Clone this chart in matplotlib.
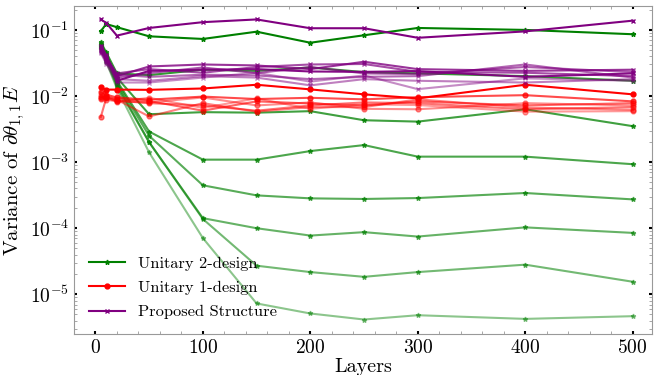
import matplotlib
matplotlib.use('Agg')
import matplotlib.pyplot as plt
import numpy as np

# Capas evaluadas
layers = [5, 10, 20, 50, 100, 150, 200, 250, 300, 400, 500]

# Unitary 2-design (una curva por tamaño)
u2_design = [
    [0.095, 0.123, 0.110, 0.080, 0.073, 0.094, 0.064, 0.083, 0.107, 0.100, 0.086],
    [0.065, 0.046, 0.022, 0.0207, 0.025, 0.024, 0.027, 0.023, 0.022, 0.020, 0.017],
    [0.062, 0.043, 0.019, 0.0053, 0.0057, 0.0056, 0.0059, 0.0043, 0.0041, 0.0063, 0.0035],
    [0.060, 0.041, 0.017, 0.0029, 0.00109, 0.00109, 0.00147, 0.00181, 0.00121, 0.00121, 0.00093],
    [0.058, 0.039, 0.016, 0.0025, 4.46e-4, 3.14e-4, 2.83e-4, 2.77e-4, 2.86e-4, 3.41e-4, 2.73e-4],
    [0.056, 0.037, 0.015, 0.0020, 1.42e-4, 1.0e-4, 7.74e-5, 8.72e-5, 7.48e-5, 1.03e-4, 8.5e-5],
    [0.054, 0.035, 0.014, 0.0020, 1.38e-4, 2.71e-5, 2.17e-5, 1.84e-5, 2.17e-5, 2.81e-5, 1.55e-5],
    [0.052, 0.033, 0.013, 0.0014, 7.1e-5, 7.28e-6, 5.13e-6, 4.16e-6, 4.83e-6, 4.25e-6, 4.67e-6],
]

# Unitary 1-design
u1_design = [
    [0.0135, 0.0125, 0.0125, 0.0124, 0.0130, 0.0148, 0.0126, 0.0106, 0.0092, 0.0148, 0.0106],
    [0.0115, 0.0105, 0.0095, 0.0088, 0.0098, 0.0090, 0.0094, 0.0089, 0.0096, 0.0103, 0.0083],
    [0.0098, 0.0095, 0.0090, 0.0084, 0.0060, 0.0083, 0.0077, 0.0072, 0.0083, 0.0072, 0.0078],
    [0.0048, 0.0092, 0.0085, 0.0078, 0.0072, 0.0060, 0.0072, 0.0080, 0.0078, 0.0063, 0.0068],
    [0.0090, 0.0100, 0.0088, 0.0049, 0.0078, 0.0058, 0.0068, 0.0068, 0.0089, 0.0067, 0.0062],
    [0.0105, 0.0088, 0.0083, 0.0080, 0.0095, 0.0072, 0.0080, 0.0064, 0.0063, 0.0078, 0.0072],
    [0.0092, 0.0097, 0.0082, 0.0094, 0.0066, 0.0092, 0.0064, 0.0075, 0.0073, 0.0058, 0.0059],
]

# Estructura propuesta
proposed = [
    [0.144, 0.128, 0.082, 0.107, 0.131, 0.144, 0.106, 0.106, 0.076, 0.095, 0.138],
    [0.058, 0.042, 0.017, 0.0240, 0.0250, 0.0255, 0.0235, 0.0232, 0.0238, 0.0195, 0.0220],
    [0.055, 0.040, 0.020, 0.0280, 0.0300, 0.0290, 0.0255, 0.0330, 0.0255, 0.0240, 0.0250],
    [0.052, 0.038, 0.022, 0.0255, 0.0225, 0.0275, 0.0300, 0.0305, 0.0232, 0.0225, 0.0200],
    [0.050, 0.036, 0.019, 0.0222, 0.0270, 0.0222, 0.0275, 0.0220, 0.0215, 0.0275, 0.0230],
    [0.048, 0.034, 0.021, 0.0195, 0.0210, 0.0205, 0.0180, 0.0195, 0.0200, 0.0300, 0.0190],
    [0.046, 0.033, 0.018, 0.0170, 0.0200, 0.0190, 0.0145, 0.0180, 0.0170, 0.0160, 0.0180],
    [0.045, 0.031, 0.016, 0.0160, 0.0190, 0.0225, 0.0165, 0.0205, 0.0127, 0.0185, 0.0170],
]

# Fuente estilo LaTeX
plt.rcParams['font.family'] = 'serif'
plt.rcParams['font.serif'] = ['cmr10']
plt.rcParams['mathtext.fontset'] = 'cm'
plt.rcParams['axes.formatter.use_mathtext'] = True
plt.rcParams['axes.unicode_minus'] = False

fig = plt.figure(figsize=(6.54, 3.75), dpi=100)
ax = fig.add_axes([0.113, 0.109, 0.884, 0.875])

# Transparencias por curva
alpha_u2 = [1.0, 0.8, 0.75, 0.7, 0.65, 0.6, 0.55, 0.45]
alpha_u1 = [1.0, 0.7, 0.6, 0.55, 0.5, 0.45, 0.4]
alpha_pr = [1.0, 0.95, 0.8, 0.7, 0.65, 0.6, 0.5, 0.45]

for i, ys in enumerate(u2_design):
    ax.plot(layers, ys, color='green', marker='*', markersize=3.5, lw=1.5,
            alpha=alpha_u2[i], label='Unitary 2-design' if i == 0 else None)
for i, ys in enumerate(u1_design):
    ax.plot(layers, ys, color='red', marker='o', markersize=3.5, lw=1.5,
            alpha=alpha_u1[i], label='Unitary 1-design' if i == 0 else None)
for i, ys in enumerate(proposed):
    ax.plot(layers, ys, color='purple', marker='x', markersize=3.5, lw=1.5,
            alpha=alpha_pr[i], label='Proposed Structure' if i == 0 else None)

ax.set_yscale('log')
ax.set_xlim(-20, 518)
ax.set_ylim(2.5e-6, 0.23)
ax.set_xticks([0, 100, 200, 300, 400, 500])
ax.xaxis.set_minor_locator(matplotlib.ticker.MultipleLocator(20))

for s in ax.spines.values():
    s.set_color('0.6')
ax.tick_params(which='major', direction='in', length=2, width=1.5, color='k',
               top=True, right=True, labelsize=14)
ax.tick_params(which='minor', direction='in', length=2, width=0.6, color='0.6',
               top=True, right=True)

ax.set_xlabel('Layers', fontsize=14.5, labelpad=1)
ax.set_ylabel(r'Variance of $\partial\theta_{1,1}E$', fontsize=15, labelpad=2)

ax.legend(loc='lower left', frameon=False, fontsize=11.8, handlelength=2.2,
          borderaxespad=0.5, labelspacing=0.6)

plt.savefig('out.png', dpi=100)
